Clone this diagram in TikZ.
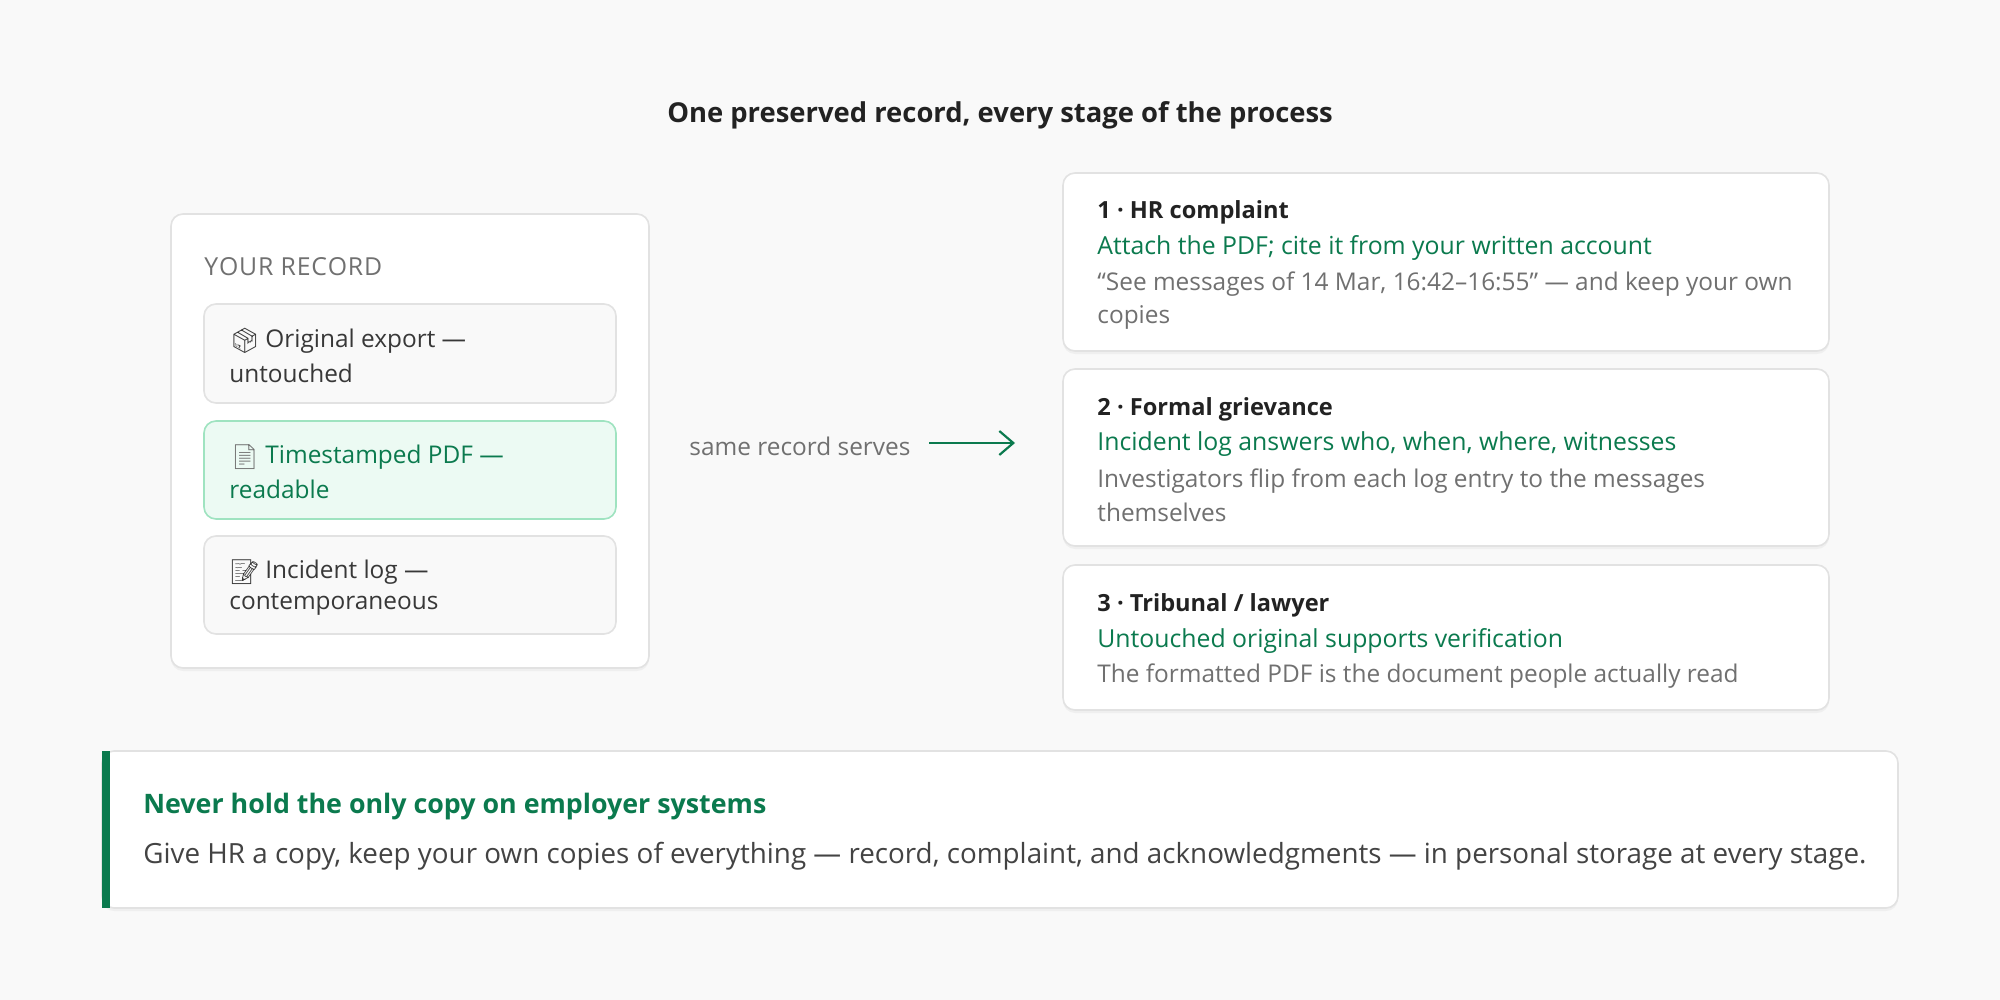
\documentclass[tikz,border=0pt]{standalone}
\usepackage{fontspec}
\setmainfont{Open Sans}
\newfontfamily\emo{Noto Emoji}
\usetikzlibrary{shadows,arrows.meta}
\definecolor{bg}{HTML}{F9F9F9}
\definecolor{grn}{HTML}{0B7A4E}
\definecolor{dark}{HTML}{222222}
\definecolor{gry}{HTML}{707070}
\definecolor{edge}{HTML}{E2E2E2}
\definecolor{mint}{HTML}{ECFAF3}
\definecolor{mintedge}{HTML}{9FE3C0}
\tikzset{
 card/.style={draw=edge,fill=white,rounded corners=6pt,line width=0.8pt,drop shadow={opacity=0.08,shadow xshift=0pt,shadow yshift=-1.5pt}},
 item/.style={draw=edge,fill=bg,rounded corners=6pt,line width=0.8pt},
 itemg/.style={draw=mintedge,fill=mint,rounded corners=6pt,line width=0.8pt},
 lbl/.style={inner sep=0pt,yshift=-1.5pt},
 txt/.style={lbl,anchor=west,font=\fontsize{12.2}{13}\selectfont,text=dark!90},
 ttl/.style={lbl,anchor=west,font=\fontsize{11.8}{13}\selectfont\bfseries,text=dark},
 gtxt/.style={lbl,anchor=west,font=\fontsize{12.4}{13}\selectfont,text=grn},
 stxt/.style={lbl,anchor=west,font=\fontsize{12.2}{13}\selectfont,text=gry},
}
\begin{document}
\begin{tikzpicture}[x=0.5pt,y=-0.5pt]
\fill[bg] (0,0) rectangle (2000,1000);
\useasboundingbox (0,0) rectangle (2000,1000);
\node[lbl,font=\fontsize{13.7}{15}\selectfont\bfseries,text=dark] (title) at (1000,112) {One preserved record, every stage of the process};
% left card
\draw[card] (171,214) rectangle (649,668);
\node[txt,text=gry,font=\fontsize{12.4}{13}\selectfont] (yr) at (204,264) {Y\kern0.4pt O\kern0.4pt U\kern0.4pt R\kern0.4pt{} R\kern0.4pt E\kern0.4pt C\kern0.4pt O\kern0.4pt R\kern0.4pt D};
\draw[item] (204,304) rectangle (616,403);
\draw[itemg] (204,421) rectangle (616,519);
\draw[item] (204,536) rectangle (616,634);
\node[txt] (e1) at (229,338) {{\emo 📦}};
\node[txt] (a1) at (265,338) {Original export —};
\node[txt] (a2) at (229,370) {untouched};
\node[txt,text=gry] (e2) at (229,454) {{\emo 📄}};
\node[gtxt,font=\fontsize{12.2}{13}\selectfont] (b1) at (265,454) {Timestamped PDF —};
\node[gtxt,font=\fontsize{12.2}{13}\selectfont] (b2) at (229,486) {readable};
\node[txt] (e3) at (229,569) {{\emo 📝}};
\node[txt] (c1) at (265,569) {Incident log —};
\node[txt] (c2) at (229,601) {contemporaneous};
% middle
\node[lbl,font=\fontsize{12.2}{13}\selectfont,text=gry] (srs) at (800,443) {same record serves};
\coordinate (as) at (929,443);
\coordinate (ae) at (1015,443);
\draw[grn,line width=1.1pt,-{Straight Barb[length=7pt,width=12pt]}] (as) -- (ae);
% right cards
\draw[card] (1063,173) rectangle (1829,351);
\draw[card] (1063,369) rectangle (1829,546);
\draw[card] (1063,565) rectangle (1829,710);
\node[ttl] (t1) at (1097,209) {1 · HR complaint};
\node[gtxt] (g1) at (1097,245) {Attach the PDF; cite it from your written account};
\node[stxt] (s1a) at (1097,281) {“See messages of 14 Mar, 16:42–16:55” — and keep your own};
\node[stxt] (s1b) at (1097,314) {copies};
\node[ttl] (t2) at (1097,406) {2 · Formal grievance};
\node[gtxt] (g2) at (1097,441) {Incident log answers who, when, where, witnesses};
\node[stxt] (s2a) at (1097,478) {Investigators flip from each log entry to the messages};
\node[stxt] (s2b) at (1097,509) {themselves};
\node[ttl] (t3) at (1097,602) {3 · Tribunal / lawyer};
\node[gtxt] (g3) at (1097,638) {Untouched original supports verification};
\node[stxt] (s3) at (1097,673) {The formatted PDF is the document people actually read};
% banner
\draw[card] (102,751) rectangle (1898,908);
\fill[grn] (102,751) rectangle (110,908);
\node[lbl,anchor=west,font=\fontsize{13.4}{15}\selectfont\bfseries,text=grn] (bt) at (143,804) {Never hold the only copy on employer systems};
\node[lbl,anchor=west,font=\fontsize{13.9}{15}\selectfont,text=dark!85] (bb) at (143,853) {Give HR a copy, keep your own copies of everything — record, complaint, and acknowledgments — in personal storage at every stage.};
\end{tikzpicture}
\end{document}
